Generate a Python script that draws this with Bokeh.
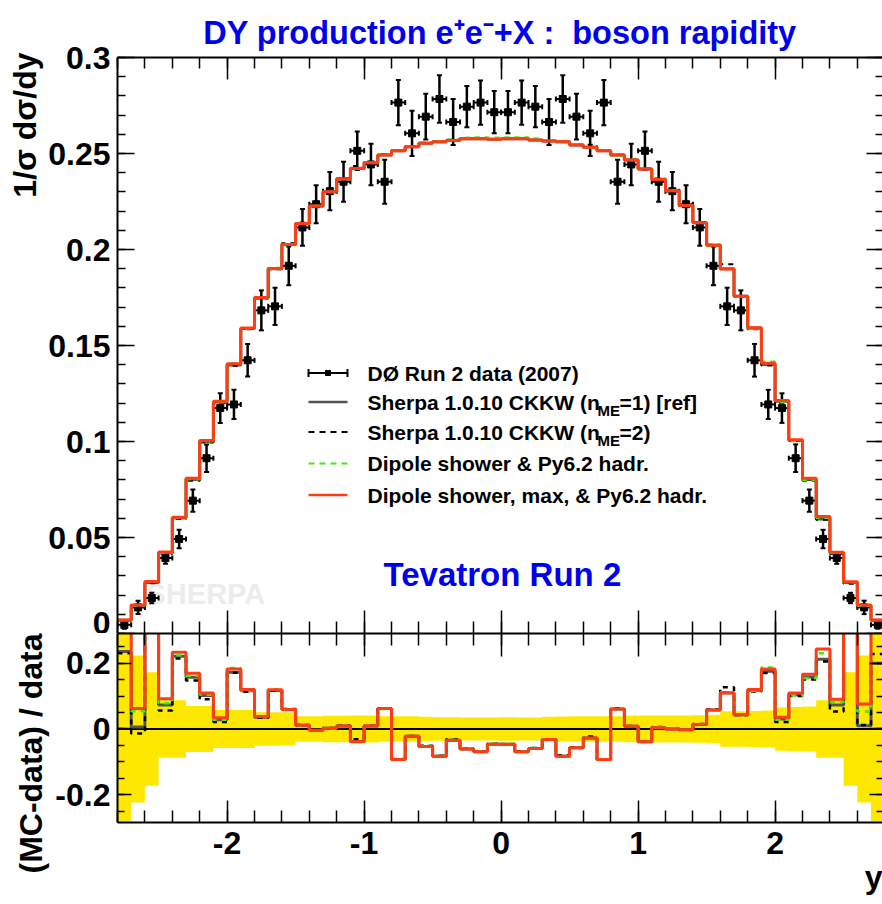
import math
from bokeh.plotting import figure
from bokeh.models import Range1d, Label, LinearAxis, FixedTicker, Span, Title
from bokeh.layouts import column
from bokeh.embed import file_html
from bokeh.resources import INLINE

# ---------------- data ----------------
bin_edges = [-2.8, -2.7, -2.6, -2.5, -2.4, -2.3, -2.2, -2.1, -2.0, -1.9, -1.8, -1.7, -1.6, -1.5,
             -1.4, -1.3, -1.2, -1.1, -1.0, -0.9, -0.8, -0.7, -0.6, -0.5, -0.4, -0.3, -0.2, -0.1,
             0.0, 0.1, 0.2, 0.3, 0.4, 0.5, 0.6, 0.7, 0.8, 0.9, 1.0, 1.1, 1.2, 1.3, 1.4, 1.5,
             1.6, 1.7, 1.8, 1.9, 2.0, 2.1, 2.2, 2.3, 2.4, 2.5, 2.6, 2.7, 2.8]

data_val = [0.0045, 0.0136, 0.0185, 0.0393, 0.0492, 0.0692, 0.0913, 0.1174, 0.1193, 0.1423,
            0.1683, 0.1704, 0.1915, 0.2115, 0.2236, 0.2304, 0.2353, 0.2514, 0.2443, 0.2353,
            0.2765, 0.2605, 0.2692, 0.2784, 0.2664, 0.2744, 0.2765, 0.2715,
            0.2715, 0.2765, 0.2744, 0.2664, 0.2784, 0.2692, 0.2605, 0.2765, 0.2353, 0.2443,
            0.2514, 0.2353, 0.2304, 0.2236, 0.2115, 0.1915, 0.1704, 0.1683, 0.1423, 0.1193,
            0.1174, 0.0913, 0.0692, 0.0492, 0.0393, 0.0185, 0.0136, 0.0045]

data_err = [0.0020, 0.0035, 0.0027, 0.0030, 0.0048, 0.0058, 0.0072, 0.0077, 0.0076, 0.0085,
            0.0104, 0.0097, 0.0101, 0.0096, 0.0099, 0.0100, 0.0104, 0.0100, 0.0108, 0.0115,
            0.0118, 0.0118, 0.0119, 0.0124, 0.0120, 0.0107, 0.0115, 0.0110,
            0.0110, 0.0115, 0.0107, 0.0120, 0.0124, 0.0119, 0.0118, 0.0118, 0.0115, 0.0108,
            0.0100, 0.0104, 0.0100, 0.0099, 0.0096, 0.0101, 0.0097, 0.0104, 0.0085, 0.0076,
            0.0077, 0.0072, 0.0058, 0.0048, 0.0030, 0.0027, 0.0035, 0.0020]

mc_dipole_max = [0.0070, 0.0148, 0.0271, 0.0425, 0.0605, 0.0809, 0.1005, 0.1210, 0.1405, 0.1591,
                 0.1750, 0.1901, 0.2026, 0.2136, 0.2227, 0.2301, 0.2367, 0.2422, 0.2452, 0.2492,
                 0.2514, 0.2535, 0.2553, 0.2561, 0.2568, 0.2577, 0.2577, 0.2574,
                 0.2577, 0.2577, 0.2570, 0.2565, 0.2561, 0.2544, 0.2532, 0.2514, 0.2492, 0.2466,
                 0.2419, 0.2365, 0.2306, 0.2229, 0.2139, 0.2022, 0.1899, 0.1756, 0.1593, 0.1408,
                 0.1214, 0.1009, 0.0809, 0.0609, 0.0423, 0.0270, 0.0148, 0.0070]

mc_dipole = [0.0069, 0.0146, 0.0268, 0.0420, 0.0601, 0.0804, 0.1001, 0.1204, 0.1407, 0.1589,
             0.1748, 0.1904, 0.2024, 0.2134, 0.2226, 0.2300, 0.2366, 0.2422, 0.2452, 0.2491,
             0.2514, 0.2536, 0.2555, 0.2564, 0.2572, 0.2582, 0.2583, 0.2582,
             0.2583, 0.2583, 0.2578, 0.2569, 0.2565, 0.2546, 0.2533, 0.2516, 0.2490, 0.2466,
             0.2419, 0.2367, 0.2308, 0.2229, 0.2139, 0.2020, 0.1902, 0.1754, 0.1588, 0.1416,
             0.1205, 0.1003, 0.0799, 0.0603, 0.0419, 0.0267, 0.0145, 0.0069]

mc_sherpa_nme2 = [0.0068, 0.0140, 0.0262, 0.0415, 0.0597, 0.0795, 0.0995, 0.1199, 0.1395, 0.1584,
                  0.1745, 0.1897, 0.2032, 0.2140, 0.2229, 0.2304, 0.2370, 0.2435, 0.2455, 0.2495,
                  0.2517, 0.2538, 0.2556, 0.2562, 0.2572, 0.2580, 0.2577, 0.2575,
                  0.2576, 0.2577, 0.2571, 0.2567, 0.2562, 0.2545, 0.2545, 0.2515, 0.2494, 0.2467,
                  0.2422, 0.2368, 0.2306, 0.2229, 0.2143, 0.2025, 0.1923, 0.1754, 0.1585, 0.1396,
                  0.1199, 0.1004, 0.0796, 0.0593, 0.0414, 0.0259, 0.0138, 0.0068]

mc_sherpa_ref = [0.0069, 0.0144, 0.0265, 0.0421, 0.0601, 0.0802, 0.1000, 0.1206, 0.1399, 0.1588,
                 0.1749, 0.1900, 0.2026, 0.2136, 0.2227, 0.2301, 0.2367, 0.2423, 0.2452, 0.2492,
                 0.2514, 0.2535, 0.2553, 0.2561, 0.2568, 0.2577, 0.2577, 0.2574,
                 0.2577, 0.2577, 0.2570, 0.2565, 0.2561, 0.2544, 0.2532, 0.2514, 0.2492, 0.2466,
                 0.2419, 0.2365, 0.2306, 0.2229, 0.2139, 0.2022, 0.1900, 0.1756, 0.1591, 0.1401,
                 0.1209, 0.1005, 0.0802, 0.0596, 0.0421, 0.0265, 0.0144, 0.0069]

ratio_dipole_max = [0.55, 0.062, 0.46, 0.092, 0.233, 0.169, 0.109, 0.034, 0.182, 0.120,
                    0.038, 0.119, 0.059, 0.011, -0.004, 0.002, 0.009, -0.039, 0.009, 0.062,
                    -0.093, -0.022, -0.053, -0.083, -0.034, -0.061, -0.069, -0.046,
                    -0.046, -0.069, -0.059, -0.032, -0.083, -0.057, -0.027, -0.093, 0.061, 0.008,
                    -0.039, 0.004, 0.000, -0.002, 0.014, 0.058, 0.109, 0.043, 0.120, 0.182,
                    0.036, 0.109, 0.166, 0.243, 0.090, 0.46, 0.076, 0.55]

ratio_dipole = [0.50, 0.054, 0.44, 0.078, 0.224, 0.162, 0.104, 0.028, 0.185, 0.117,
                0.037, 0.121, 0.058, 0.010, -0.004, 0.001, 0.008, -0.039, 0.009, 0.061,
                -0.093, -0.022, -0.052, -0.082, -0.033, -0.061, -0.068, -0.044,
                -0.045, -0.068, -0.058, -0.032, -0.082, -0.057, -0.027, -0.092, 0.060, 0.008,
                -0.039, 0.005, 0.001, -0.002, 0.014, 0.057, 0.111, 0.042, 0.116, 0.187,
                0.028, 0.102, 0.154, 0.230, 0.082, 0.44, 0.053, 0.50]

ratio_sherpa_nme2 = [0.230, -0.014, 0.40, 0.056, 0.214, 0.147, 0.090, 0.021, 0.171, 0.113,
                     0.034, 0.116, 0.061, 0.012, -0.003, 0.003, 0.010, -0.031, 0.010, 0.063,
                     -0.091, -0.021, -0.051, -0.081, -0.031, -0.060, -0.068, -0.045,
                     -0.046, -0.068, -0.058, -0.031, -0.080, -0.056, -0.023, -0.092, 0.062, 0.009,
                     -0.037, 0.006, 0.001, -0.002, 0.015, 0.059, 0.127, 0.042, 0.114, 0.170,
                     0.021, 0.100, 0.150, 0.205, 0.053, 0.40, 0.012, 0.228]

ratio_sherpa_ref = [0.235, 0.006, 0.42, 0.073, 0.221, 0.157, 0.102, 0.028, 0.172, 0.116,
                    0.036, 0.117, 0.059, 0.011, -0.004, 0.002, 0.009, -0.038, 0.009, 0.062,
                    -0.093, -0.022, -0.053, -0.083, -0.034, -0.061, -0.069, -0.046,
                    -0.046, -0.069, -0.059, -0.032, -0.083, -0.057, -0.027, -0.093, 0.061, 0.008,
                    -0.039, 0.004, 0.000, -0.002, 0.014, 0.058, 0.110, 0.043, 0.118, 0.175,
                    0.030, 0.104, 0.158, 0.212, 0.073, 0.42, 0.010, 0.200]

band_rel_err = [0.40, 0.223, 0.172, 0.087, 0.087, 0.070, 0.070, 0.058, 0.058, 0.058,
                0.051, 0.051, 0.050, 0.039, 0.039, 0.040, 0.040, 0.041, 0.041, 0.039,
                0.039, 0.039, 0.037, 0.036, 0.036, 0.035, 0.035, 0.035,
                0.036, 0.035, 0.035, 0.037, 0.038, 0.039, 0.039, 0.039, 0.039, 0.040,
                0.041, 0.041, 0.041, 0.041, 0.042, 0.043, 0.054, 0.054, 0.055, 0.056,
                0.066, 0.067, 0.068, 0.087, 0.087, 0.172, 0.223, 0.40]

x_ticks = [-2, -1, 0, 1, 2]
x_tick_labels = ["-2", "-1", "0", "1", "2"]
x_minor = [-2.8, -2.6, -2.4, -2.2, -2.0, -1.8, -1.6, -1.4, -1.2, -1.0, -0.8, -0.6, -0.4, -0.2,
           0.0, 0.2, 0.4, 0.6, 0.8, 1.0, 1.2, 1.4, 1.6, 1.8, 2.0, 2.2, 2.4, 2.6, 2.8]
y_ticks_top = [0, 0.05, 0.1, 0.15, 0.2, 0.25, 0.3]
y_tick_labels_top = ["0", "0.05", "0.1", "0.15", "0.2", "0.25", "0.3"]
y_minor_top = [i / 100 for i in range(0, 31)]
y_ticks_ratio = [-0.2, 0, 0.2]
y_tick_labels_ratio = ["-0.2", "0", "0.2"]
y_minor_ratio = [-0.25, -0.2, -0.15, -0.1, -0.05, 0, 0.05, 0.1, 0.15, 0.2, 0.25]

title_text = "DY production e\u207ae\u207b+X :\u00a0 boson rapidity"
y_title_top = "1/\u03c3 d\u03c3/dy"
y_title_ratio = "(MC-data) / data"
x_title = "y"
legend_labels = ["D\u00d8 Run 2 data (2007)", "Sherpa 1.0.10 CKKW (n", "Sherpa 1.0.10 CKKW (n",
                 "Dipole shower & Py6.2 hadr.", "Dipole shower, max, & Py6.2 hadr."]

# ---------------- style / geometry ----------------
FONT = "Liberation Sans"
RED = "#ff3c14"
GREEN = "#3ff000"
GRAY = "#555555"
YELLOW = "#ffe800"
BLUE = "#0000f0"

W = 882
FR_L, FR_R = 117, 882          # canvas px of frame left/right
T_TOP, T_BOT = 57, 633         # top frame
TOTAL_H = 904
BOT_BORDER = 82                # ratio frame: 633 .. 822
X0 = -2.8
X1 = X0 + (FR_R - FR_L) / 137.0
YR_TOP = 0.29
YR_BOT = YR_TOP - (TOTAL_H - T_BOT - BOT_BORDER) / 329.3


def x_at(px):
    return X0 + (px - FR_L) * (X1 - X0) / (FR_R - FR_L)


def y1_at(py):
    return 0.3 * (T_BOT - py) / (T_BOT - T_TOP)


def steps(vals):
    xs, ys = [], []
    for i, v in enumerate(vals):
        xs += [bin_edges[i], bin_edges[i + 1]]
        ys += [v, v]
    return xs, ys


def add_axis(p, side, ticks, minor, labels, tin, tmin, line=True, show=True, standoff=7):
    ax = LinearAxis(ticker=FixedTicker(ticks=ticks, minor_ticks=minor))
    ax.major_tick_in = tin
    ax.major_tick_out = 0
    ax.minor_tick_in = tmin
    ax.minor_tick_out = 0
    ax.major_tick_line_color = "black"
    ax.major_tick_line_width = 1.5
    ax.minor_tick_line_color = "black"
    ax.minor_tick_line_width = 1.5
    ax.axis_line_color = "black" if line else None
    ax.axis_line_width = 2
    if show:
        ax.major_label_overrides = {t: l for t, l in zip(ticks, labels)}
        ax.major_label_text_font = FONT
        ax.major_label_text_font_style = "bold"
        ax.major_label_text_font_size = "32px"
        ax.major_label_text_color = "black"
        ax.major_label_standoff = standoff
    else:
        ax.major_label_overrides = {t: "" for t in ticks}
        ax.major_label_text_font_size = "0px"
        ax.major_label_standoff = 0
    p.add_layout(ax, side)
    return ax


def label(p, x, y, text, size="32px", color="black", level=None):
    # y is the vertical middle of the text
    lb = Label(x=x, y=y, text=text, text_font=FONT, text_font_style="bold",
               text_font_size=size, text_color=color, text_align="left",
               text_baseline="middle")
    if level:
        lb.level = level
    p.add_layout(lb)
    return lb


def side_title(p, side, text, align, standoff, offset=0, color="black", size="32px"):
    t = Title(text=text, align=align, offset=offset, standoff=standoff, text_font=FONT,
              text_font_style="bold", text_font_size=size, text_color=color)
    p.add_layout(t, side)
    return t


centers = [(bin_edges[i] + bin_edges[i + 1]) / 2 for i in range(len(data_val))]
lefts = bin_edges[:-1]
rights = bin_edges[1:]

# ---------------- top panel ----------------
p1 = figure(width=W, height=T_BOT, x_range=Range1d(X0, X1), y_range=Range1d(0, 0.3),
            output_backend="svg", toolbar_location=None,
            x_axis_location=None, y_axis_location=None,
            min_border_left=FR_L, min_border_right=0, min_border_top=T_TOP, min_border_bottom=0)
p1.outline_line_color = None
p1.grid.visible = False
p1.background_fill_color = "white"
p1.border_fill_color = "white"

add_axis(p1, "left", y_ticks_top, y_minor_top, y_tick_labels_top, 17, 8)
add_axis(p1, "right", y_ticks_top, y_minor_top, y_tick_labels_top, 16, 7, line=False, show=False)
add_axis(p1, "above", x_ticks, x_minor, x_tick_labels, 22, 11, show=False)
add_axis(p1, "below", x_ticks, x_minor, x_tick_labels, 23, 12, show=False)

p1.title.text = title_text
p1.title.align = "center"
p1.title.text_font = FONT
p1.title.text_font_style = "bold"
p1.title.text_font_size = "32.5px"
p1.title.text_color = BLUE
p1.title.standoff = 14

side_title(p1, "left", y_title_top, "right", standoff=6, offset=-5)

label(p1, x_at(146), y1_at(593), "SHERPA", size="29px", color="#ececec", level="underlay")

# data points
lo = [v - e for v, e in zip(data_val, data_err)]
hi = [v + e for v, e in zip(data_val, data_err)]
p1.segment(x0=centers, y0=lo, x1=centers, y1=hi, line_color="black", line_width=2.5)
p1.scatter(x=centers + centers, y=lo + hi, marker="dash", size=5, line_color="black", line_width=2)
p1.segment(x0=lefts, y0=data_val, x1=rights, y1=data_val, line_color="black", line_width=2)
p1.scatter(x=list(lefts) + list(rights), y=data_val + data_val, marker="dash", angle=math.pi / 2,
           size=5, line_color="black", line_width=2)
p1.scatter(x=centers, y=data_val, marker="square", size=7, fill_color="black", line_color="black")

for vals, col, dash, lw in [(mc_sherpa_ref, GRAY, "solid", 3),
                            (mc_sherpa_nme2, "black", "5 5", 2),
                            (mc_dipole, GREEN, "5 5", 2.5),
                            (mc_dipole_max, RED, "solid", 3)]:
    xs, ys = steps(vals)
    p1.line(xs, ys, line_color=col, line_dash=dash, line_width=lw)

# legend (drawn by hand, ROOT style); row_mid = vertical middle of each entry
row_mid = [372.5, 401.5, 431.5, 463, 494.5]
kx0, kx1 = x_at(308), x_at(347)
ky = [y1_at(m) for m in row_mid]
p1.segment(x0=[kx0], y0=[ky[0]], x1=[kx1], y1=[ky[0]], line_color="black", line_width=2)
p1.scatter(x=[kx0, kx1], y=[ky[0], ky[0]], marker="dash", angle=math.pi / 2, size=8,
           line_color="black", line_width=2)
p1.scatter(x=[(kx0 + kx1) / 2], y=[ky[0]], marker="square", size=5, fill_color="black", line_color="black")
p1.line([kx0, kx1], [ky[1], ky[1]], line_color=GRAY, line_width=2.5)
p1.line([kx0, kx1], [ky[2], ky[2]], line_color="black", line_width=2, line_dash="6 5")
p1.line([kx0, kx1], [ky[3], ky[3]], line_color=GREEN, line_width=2, line_dash="6 5")
p1.line([kx0, kx1], [ky[4], ky[4]], line_color=RED, line_width=2.5)
for m, t in zip(row_mid, legend_labels):
    label(p1, x_at(367), y1_at(m), t, size="21px")
label(p1, x_at(597), y1_at(row_mid[1] + 8), "ME", size="15px")
label(p1, x_at(619), y1_at(row_mid[1]), "=1) [ref]", size="21px")
label(p1, x_at(597), y1_at(row_mid[2] + 8), "ME", size="15px")
label(p1, x_at(619), y1_at(row_mid[2]), "=2)", size="21px")

label(p1, x_at(383), y1_at(573.5), "Tevatron Run 2", size="33px", color=BLUE)

# ---------------- ratio panel ----------------
p2 = figure(width=W, height=TOTAL_H - T_BOT, x_range=p1.x_range, y_range=Range1d(YR_BOT, YR_TOP),
            output_backend="svg", toolbar_location=None,
            x_axis_location=None, y_axis_location=None,
            min_border_left=FR_L, min_border_right=0, min_border_top=0,
            min_border_bottom=BOT_BORDER)
p2.outline_line_color = None
p2.grid.visible = False
p2.background_fill_color = "white"
p2.border_fill_color = "white"

add_axis(p2, "left", y_ticks_ratio, y_minor_ratio, y_tick_labels_ratio, 14, 7)
add_axis(p2, "right", y_ticks_ratio, y_minor_ratio, y_tick_labels_ratio, 13, 6, line=False, show=False)
add_axis(p2, "above", x_ticks, x_minor, x_tick_labels, 23, 12, show=False)
add_axis(p2, "below", x_ticks, x_minor, x_tick_labels, 22, 12, standoff=9)

side_title(p2, "left", y_title_ratio, "right", standoff=8, offset=0)
side_title(p2, "below", x_title, "right", standoff=0, offset=0)

bx, by = steps(band_rel_err)
band = p2.varea(x=bx, y1=[-v for v in by], y2=by, fill_color=YELLOW)
band.level = "image"
p2.add_layout(Span(location=0, dimension="width", line_color="black", line_width=2, level="underlay"))

for vals, col, dash, lw in [(ratio_sherpa_ref, GRAY, "solid", 3),
                            (ratio_sherpa_nme2, "black", "5 5", 2.5),
                            (ratio_dipole, GREEN, "5 5", 2.5),
                            (ratio_dipole_max, RED, "solid", 3)]:
    xs, ys = steps(vals)
    p2.line(xs, ys, line_color=col, line_dash=dash, line_width=lw)

layout = column(p1, p2, spacing=0)
open("out.html", "w").write(file_html(layout, INLINE))
